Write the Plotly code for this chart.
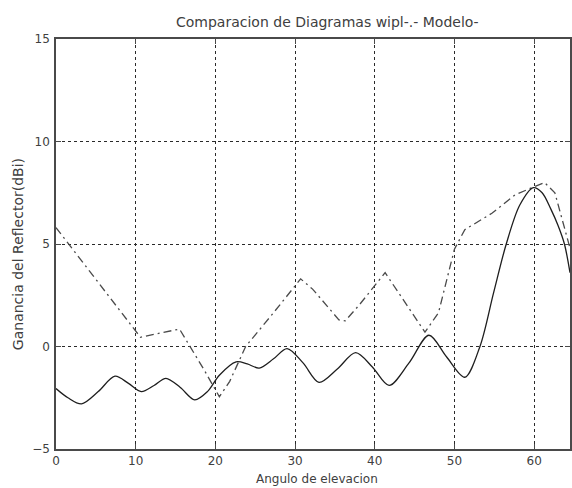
import plotly.graph_objects as go

# Modelo (solid curve)
modelo_x = [0, 1.5, 3.2, 5.3, 7.4, 9.1, 10.7, 12.3, 13.8, 15.6, 17.4, 19.0, 20.5, 22.6, 24.0,
            25.5, 27.3, 29.0, 31.0, 33.0, 35.3, 37.6, 39.7, 41.8, 44.3, 46.8, 49.0, 51.3, 53.2,
            54.9, 56.5, 58.2, 59.9, 61.0, 62.1, 63.0, 63.8, 64.5]
modelo_y = [-2.05, -2.5, -2.8, -2.2, -1.45, -1.8, -2.2, -1.9, -1.55, -2.0, -2.6, -2.2, -1.4,
            -0.75, -0.85, -1.05, -0.6, -0.1, -0.8, -1.75, -1.1, -0.3, -1.0, -1.9, -0.8, 0.55,
            -0.5, -1.5, 0.0, 2.6, 5.0, 6.9, 7.75, 7.5, 6.7, 5.9, 5.0, 3.6]

# wipl (dash-dot curve)
wipl_x = [0, 10.6, 13.0, 15.5, 18.6, 20.5, 21.8, 23.8, 27.2, 30.7, 32.2, 35.5, 36.3, 38.0,
          41.3, 43.0, 46.3, 48.0, 50.0, 51.3, 54.7, 57.6, 61.3, 62.6, 64.5]
wipl_y = [5.8, 0.45, 0.65, 0.85, -1.15, -2.45, -1.7, 0.0, 1.6, 3.3, 2.8, 1.3, 1.25, 2.0,
          3.6, 2.6, 0.7, 1.65, 4.75, 5.7, 6.5, 7.4, 8.0, 7.5, 4.8]

x_ticks = [0, 10, 20, 30, 40, 50, 60, 70]
y_ticks = [-5, 0, 5, 10, 15]

title_text = "Comparacion de Diagramas wipl-.- Modelo-"
x_label = "Angulo de elevacion"
y_label = "Ganancia del Reflector(dBi)"

FONT = "DejaVu Sans"
TXT = "#404040"

fig = go.Figure()
fig.add_trace(go.Scatter(x=wipl_x, y=wipl_y, mode="lines",
                         line=dict(color="#4a4a4a", width=1.3, dash="8px,4px,2px,4px"),
                         showlegend=False))
fig.add_trace(go.Scatter(x=modelo_x, y=modelo_y, mode="lines",
                         line=dict(color="#1e1e1e", width=1.3, shape="spline", smoothing=0.9),
                         showlegend=False))

axis_common = dict(
    showline=True, linecolor="#4a4a4a", linewidth=1.5, mirror="ticks",
    ticks="inside", ticklen=5, tickcolor="#4a4a4a", tickwidth=1,
    showgrid=True, gridcolor="#2a2a2a", gridwidth=1, griddash="3px,3px",
    zeroline=False,
    tickfont=dict(family=FONT, size=12, color=TXT),
)

fig.update_xaxes(range=[0, 64.5], tickvals=x_ticks, **axis_common)
fig.update_yaxes(range=[-5, 15], tickvals=y_ticks, ticklabelstandoff=2, **axis_common)

L, T, B = 56, 39, 39
W, H = 572, 488
ph = H - T - B
pw = W - L

def px_x(p):
    return (p - L) / pw

def px_y(p):
    return (H - B - p) / ph

fig.update_layout(
    width=W, height=H,
    margin=dict(l=L, r=0, t=T, b=B, pad=0),
    paper_bgcolor="white", plot_bgcolor="white",
    annotations=[
        dict(text=title_text, x=px_x(329), y=px_y(22), xref="paper", yref="paper",
             showarrow=False, font=dict(family=FONT, size=14, color=TXT),
             xanchor="center", yanchor="middle"),
        dict(text=x_label, x=px_x(318), y=px_y(488), xref="paper", yref="paper",
             showarrow=False, font=dict(family=FONT, size=12, color=TXT),
             xanchor="center", yanchor="bottom"),
        dict(text=y_label, x=px_x(18), y=px_y(254), xref="paper", yref="paper",
             showarrow=False, textangle=-90, font=dict(family=FONT, size=14, color=TXT),
             xanchor="center", yanchor="middle"),
    ],
)

fig.write_html("out.html")
